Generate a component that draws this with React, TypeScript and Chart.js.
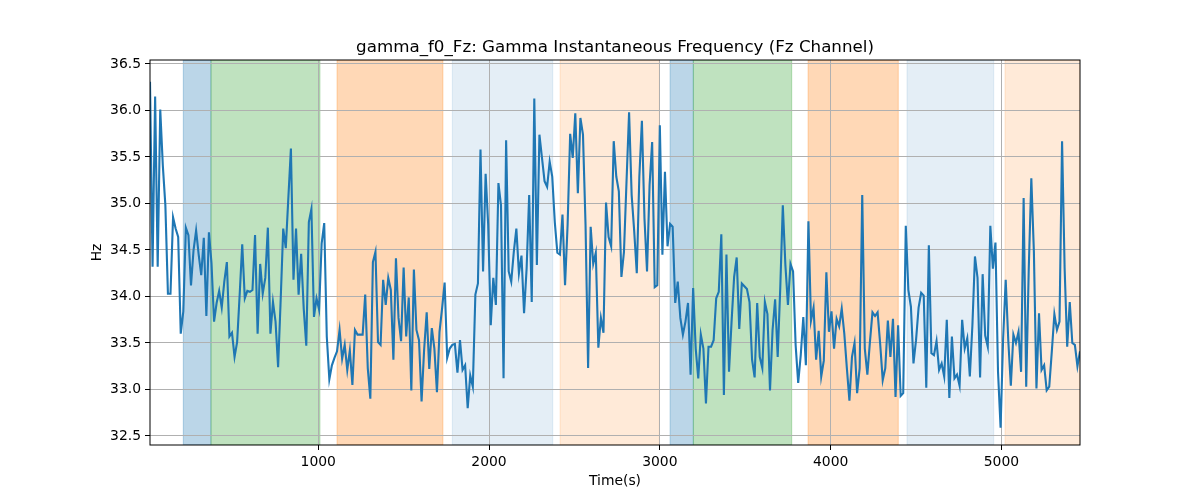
import { useEffect, useRef } from "react";
import { Chart, registerables } from "chart.js";

Chart.register(...registerables);

const times = [
  15, 30, 45, 60, 75, 90, 105, 120, 135, 150, 165, 180, 195, 210, 225, 240, 255, 270, 285, 300,
  315, 330, 345, 360, 375, 390, 405, 420, 435, 450, 465, 480, 495, 510, 525, 540, 555, 570, 585, 600,
  615, 630, 645, 660, 675, 690, 705, 720, 735, 750, 765, 780, 795, 810, 825, 840, 855, 870, 885, 900,
  915, 930, 945, 960, 975, 990, 1005, 1020, 1035, 1050, 1065, 1080, 1095, 1110, 1125, 1140, 1155, 1170, 1185, 1200,
  1215, 1230, 1245, 1260, 1275, 1290, 1305, 1320, 1335, 1350, 1365, 1380, 1395, 1410, 1425, 1440, 1455, 1470, 1485, 1500,
  1515, 1530, 1545, 1560, 1575, 1590, 1605, 1620, 1635, 1650, 1665, 1680, 1695, 1710, 1725, 1740, 1755, 1770, 1785, 1800,
  1815, 1830, 1845, 1860, 1875, 1890, 1905, 1920, 1935, 1950, 1965, 1980, 1995, 2010, 2025, 2040, 2055, 2070, 2085, 2100,
  2115, 2130, 2145, 2160, 2175, 2190, 2205, 2220, 2235, 2250, 2265, 2280, 2295, 2310, 2325, 2340, 2355, 2370, 2385, 2400,
  2415, 2430, 2445, 2460, 2475, 2490, 2505, 2520, 2535, 2550, 2565, 2580, 2595, 2610, 2625, 2640, 2655, 2670, 2685, 2700,
  2715, 2730, 2745, 2760, 2775, 2790, 2805, 2820, 2835, 2850, 2865, 2880, 2895, 2910, 2925, 2940, 2955, 2970, 2985, 3000,
  3015, 3030, 3045, 3060, 3075, 3090, 3105, 3120, 3135, 3150, 3165, 3180, 3195, 3210, 3225, 3240, 3255, 3270, 3285, 3300,
  3315, 3330, 3345, 3360, 3375, 3390, 3405, 3420, 3435, 3450, 3465, 3480, 3495, 3510, 3525, 3540, 3555, 3570, 3585, 3600,
  3615, 3630, 3645, 3660, 3675, 3690, 3705, 3720, 3735, 3750, 3765, 3780, 3795, 3810, 3825, 3840, 3855, 3870, 3885, 3900,
  3915, 3930, 3945, 3960, 3975, 3990, 4005, 4020, 4035, 4050, 4065, 4080, 4095, 4110, 4125, 4140, 4155, 4170, 4185, 4200,
  4215, 4230, 4245, 4260, 4275, 4290, 4305, 4320, 4335, 4350, 4365, 4380, 4395, 4410, 4425, 4440, 4455, 4470, 4485, 4500,
  4515, 4530, 4545, 4560, 4575, 4590, 4605, 4620, 4635, 4650, 4665, 4680, 4695, 4710, 4725, 4740, 4755, 4770, 4785, 4800,
  4815, 4830, 4845, 4860, 4875, 4890, 4905, 4920, 4935, 4950, 4965, 4980, 4995, 5010, 5025, 5040, 5055, 5070, 5085, 5100,
  5115, 5130, 5145, 5160, 5175, 5190, 5205, 5220, 5235, 5250, 5265, 5280, 5295, 5310, 5325, 5340, 5355, 5370, 5385, 5400,
  5415, 5430, 5445, 5460,
];

const freqHz = [
  36.31, 34.32, 36.15, 34.32, 36.01, 35.41, 34.98, 34.03, 34.03, 34.85,
  34.73, 34.64, 33.60, 33.84, 34.74, 34.66, 34.12, 34.50, 34.71, 34.45,
  34.23, 34.63, 33.79, 34.69, 34.36, 33.73, 33.93, 34.06, 33.88, 34.16,
  34.37, 33.57, 33.61, 33.35, 33.51, 34.02, 34.56, 33.98, 34.06, 34.05,
  34.07, 34.66, 33.60, 34.35, 34.03, 34.20, 34.74, 33.60, 33.94,
  33.73, 33.24, 33.96, 34.73, 34.52, 35.06, 35.59, 34.18, 34.73, 34.02,
  34.46, 33.87, 33.47, 34.80, 34.94, 33.78, 33.98, 33.86, 34.57, 34.79,
  33.57, 33.11, 33.26, 33.34, 33.41, 33.64, 33.33, 33.48, 33.21, 33.42,
  33.05, 33.64, 33.59, 33.59, 33.59, 34.02, 33.23, 32.90, 34.37, 34.48,
  33.51, 33.48, 34.18, 33.91, 34.20, 34.07, 33.32, 34.41,
  33.77, 33.52, 34.31, 33.57, 33.99, 32.99, 34.29, 33.64, 33.53, 32.87,
  33.43, 33.83, 33.22, 33.66, 33.44, 32.97, 33.62, 33.87, 34.15, 33.34,
  33.44, 33.48, 33.49, 33.18, 33.53, 33.21, 33.26, 32.80, 33.15, 33.03,
  34.02, 34.14, 35.58, 34.27, 35.32, 34.77, 33.69, 34.20, 33.91, 35.22,
  34.98, 33.12, 35.68, 34.27, 34.16, 34.48, 34.73, 34.25, 34.44,
  33.82, 34.30, 35.09, 33.94, 36.13, 34.34, 35.74, 35.49, 35.24, 35.18,
  35.45, 35.29, 34.80, 34.47, 34.45, 34.88, 34.12, 34.77, 35.75, 35.49,
  35.97, 35.11, 35.92, 35.74, 34.77, 33.23, 34.75, 34.35, 34.47, 33.45,
  33.77, 33.61, 35.01, 34.64, 34.54, 35.67, 35.29, 35.13, 34.21, 34.48,
  35.24, 35.98, 35.09, 34.70, 34.25, 35.29, 35.89, 34.84,
  34.27, 35.20, 35.66, 34.10, 34.12, 35.84, 34.45, 35.34, 34.54, 34.78,
  34.75, 33.93, 34.16, 33.77, 33.59, 33.73, 33.93, 33.16, 34.09, 33.44,
  33.12, 33.59, 33.44, 32.85, 33.46, 33.46, 33.53, 33.98, 34.05, 34.67,
  32.94, 34.45, 33.19, 33.73, 34.21, 34.42, 33.65, 34.14, 34.11, 34.08,
  33.94, 33.32, 33.13, 33.93, 33.35, 33.23, 33.94, 33.81,
  32.99, 33.64, 33.97, 33.35, 34.09, 34.98, 34.34, 33.91, 34.35, 34.27,
  33.48, 33.07, 33.37, 33.78, 33.26, 34.81, 33.74, 33.88, 33.32, 33.63,
  33.14, 33.31, 34.26, 33.62, 33.84, 33.44, 33.76, 33.68, 33.87, 33.60,
  33.23, 32.88, 33.35, 33.50, 32.96, 33.23, 35.09, 33.44, 33.16, 33.51,
  33.83, 33.79, 33.83, 33.49, 33.10, 33.23, 33.74, 33.35, 33.76,
  32.92, 33.69, 32.93, 32.96, 34.76, 34.07, 33.89, 33.28, 33.53, 33.88,
  34.04, 34.01, 33.02, 34.55, 33.39, 33.37, 33.52, 33.21, 33.28, 33.14,
  33.75, 32.91, 33.57, 33.12, 33.16, 33.04, 33.75, 33.44, 33.55, 33.14,
  33.69, 34.43, 34.20, 33.13, 34.24, 33.58, 33.46, 34.76, 34.30, 34.58,
  33.19, 32.59, 33.55, 34.18, 33.53, 33.04, 33.59, 33.50, 33.62, 33.19,
  35.06, 33.03, 34.30, 35.27, 34.48, 33.01, 33.82, 33.21, 33.26, 32.99,
  33.03, 33.41, 33.81, 33.64, 33.73, 35.67, 34.30, 33.46, 33.94, 33.50,
  33.48, 33.25, 33.41,
];

const xTicks = [1000, 2000, 3000, 4000, 5000];
const yTicks = [32.5, 33.0, 33.5, 34.0, 34.5, 35.0, 35.5, 36.0, 36.5];

const spanStarts = [210, 372, 1110, 1785, 2416, 3060, 3196, 3868, 4447, 5021];
const spanEnds = [372, 1010, 1730, 2373, 2997, 3196, 3772, 4396, 4955, 5460];
const spanKinds = [
  "blue", "green", "orange", "lightblue", "lightorange",
  "blue", "green", "orange", "lightblue", "lightorange",
];

const spanColors: Record<string, string> = {
  blue: "rgba(31,119,180,0.3)",
  green: "rgba(44,160,44,0.3)",
  orange: "rgba(255,127,14,0.3)",
  lightblue: "rgba(31,119,180,0.12)",
  lightorange: "rgba(255,127,14,0.16)",
};

const TITLE = "gamma_f0_Fz: Gamma Instantaneous Frequency (Fz Channel)";
const X_LABEL = "Time(s)";
const Y_LABEL = "Hz";
const FONT = "'DejaVu Sans', sans-serif";

const overlayPlugin = {
  id: "overlay",
  beforeDraw(chart: any) {
    const { ctx, chartArea } = chart;
    const { left, right, top, bottom } = chartArea;
    const xs = chart.scales.x;
    ctx.save();
    ctx.beginPath();
    ctx.rect(left, top, right - left, bottom - top);
    ctx.clip();
    for (let i = 0; i < spanStarts.length; i++) {
      const x0 = xs.getPixelForValue(spanStarts[i]);
      const x1 = xs.getPixelForValue(spanEnds[i]);
      const c = spanColors[spanKinds[i]];
      ctx.fillStyle = c;
      ctx.fillRect(x0, top, x1 - x0, bottom - top);
      ctx.strokeStyle = c;
      ctx.lineWidth = 1;
      ctx.strokeRect(x0, top, x1 - x0, bottom - top);
    }
    ctx.restore();
  },
  afterDraw(chart: any) {
    const { ctx, chartArea } = chart;
    const { left, right, top, bottom } = chartArea;
    ctx.save();
    ctx.strokeStyle = "#000";
    ctx.lineWidth = 1;
    ctx.strokeRect(left, top, right - left, bottom - top);

    ctx.fillStyle = "#000";
    ctx.textAlign = "center";
    ctx.font = `16.7px ${FONT}`;
    ctx.textBaseline = "alphabetic";
    ctx.fillText(TITLE, (left + right) / 2, 52);

    ctx.font = `13.9px ${FONT}`;
    ctx.textBaseline = "middle";
    ctx.fillText(X_LABEL, (left + right) / 2, 481);

    ctx.translate(97, (top + bottom) / 2);
    ctx.rotate(-Math.PI / 2);
    ctx.fillText(Y_LABEL, 0, 0);
    ctx.restore();
  },
};

export default function App() {
  const canvasRef = useRef<HTMLCanvasElement | null>(null);

  useEffect(() => {
    document.body.style.margin = "0";
    const canvas = canvasRef.current;
    if (!canvas) return;
    const points = times.map((t, i) => ({ x: t, y: freqHz[i] }));
    const chart = new Chart(canvas, {
      type: "line",
      data: {
        datasets: [
          {
            data: points,
            borderColor: "#1f77b4",
            borderWidth: 2.1,
            pointRadius: 0,
            tension: 0,
            fill: false,
          },
        ],
      },
      options: {
        animation: false,
        responsive: false,
        maintainAspectRatio: false,
        devicePixelRatio: 1,
        layout: { padding: { left: 0, right: 120, top: 60, bottom: 0 } },
        plugins: {
          legend: { display: false },
          title: { display: false },
          tooltip: { enabled: false },
        },
        scales: {
          x: {
            type: "linear",
            min: 15,
            max: 5460,
            afterFit: (s: any) => {
              s.height = 55;
            },
            afterBuildTicks: (s: any) => {
              s.ticks = xTicks.map((v) => ({ value: v }));
            },
            ticks: {
              color: "#000",
              font: { family: FONT, size: 13.9 },
              padding: 4,
              maxRotation: 0,
              callback: (v: any) => String(v),
            },
            grid: {
              color: "#b0b0b0",
              lineWidth: 1,
              tickColor: "#000",
              tickLength: 5,
              tickWidth: 1,
            },
            border: { display: false },
          },
          y: {
            type: "linear",
            min: 32.403,
            max: 36.543,
            afterFit: (s: any) => {
              s.width = 150;
            },
            afterBuildTicks: (s: any) => {
              s.ticks = yTicks.map((v) => ({ value: v }));
            },
            ticks: {
              color: "#000",
              font: { family: FONT, size: 13.9 },
              padding: 4,
              callback: (v: any) => Number(v).toFixed(1),
            },
            grid: {
              color: "#b0b0b0",
              lineWidth: 1,
              tickColor: "#000",
              tickLength: 5,
              tickWidth: 1,
            },
            border: { display: false },
          },
        },
      },
      plugins: [overlayPlugin],
    });
    return () => chart.destroy();
  }, []);

  return (
    <div style={{ position: "absolute", left: 0, top: 0, width: 1200, height: 500, background: "#fff" }}>
      <canvas ref={canvasRef} width={1200} height={500} style={{ width: 1200, height: 500, display: "block" }} />
    </div>
  );
}
